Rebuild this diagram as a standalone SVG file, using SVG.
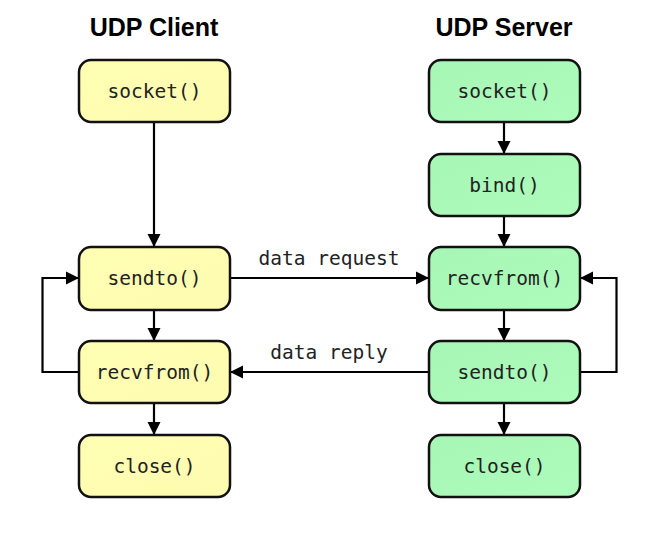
<svg xmlns="http://www.w3.org/2000/svg" width="646" height="536" viewBox="0 0 646 536">
<defs>
<marker id="arr" viewBox="0 0 10 10" refX="10" refY="5" markerWidth="6" markerHeight="6" orient="auto" markerUnits="strokeWidth">
<path d="M0,0 L10,5 L0,10 z" fill="#000"/>
</marker>
<linearGradient id="gy" x1="0" y1="0" x2="1" y2="1">
<stop offset="0" stop-color="#ffffb4"/><stop offset="1" stop-color="#fdfbb0"/>
</linearGradient>
<linearGradient id="gg" x1="0" y1="0" x2="1" y2="1">
<stop offset="0" stop-color="#a6f6b6"/><stop offset="1" stop-color="#aefcbc"/>
</linearGradient>
</defs>
<style>
.title{font-family:"Liberation Sans",Arial,sans-serif;font-weight:bold;font-size:25px;fill:#000;text-anchor:middle}
.box{stroke:#111;stroke-width:2.5}
.c{fill:url(#gy)}
.s{fill:url(#gg)}
.lbl{font-family:"DejaVu Sans Mono",monospace;font-size:19.5px;fill:#222;text-anchor:middle}
.edge{fill:none;stroke:#000;stroke-width:2.2;marker-end:url(#arr)}
</style>
<rect width="646" height="536" fill="#fff"/>
<text class="title" x="154" y="36">UDP Client</text>
<text class="title" x="504" y="36">UDP Server</text>
<g id="connectors">
<path class="edge" d="M154,122 V247"/>
<path class="edge" d="M154,310 V341"/>
<path class="edge" d="M154,403 V435"/>
<path class="edge" d="M80,372 H42.5 V278 H79"/>
<path class="edge" d="M230,278 H429"/>
<path class="edge" d="M429,372 H230"/>
<path class="edge" d="M504,122 V154"/>
<path class="edge" d="M504,216 V247"/>
<path class="edge" d="M504,310 V341"/>
<path class="edge" d="M504,403 V435"/>
<path class="edge" d="M580,372 H616.5 V278 H580"/>
<text class="lbl" x="329" y="265">data request</text>
<text class="lbl" x="329" y="359">data reply</text>
</g>
<g id="client-socket"><rect class="box c" x="79" y="60" width="151" height="62" rx="12"/><text class="lbl" x="154.5" y="98">socket()</text></g>
<g id="client-sendto"><rect class="box c" x="79" y="247" width="151" height="63" rx="12"/><text class="lbl" x="154.5" y="285">sendto()</text></g>
<g id="client-recvfrom"><rect class="box c" x="79" y="341" width="151" height="62" rx="12"/><text class="lbl" x="154.5" y="379">recvfrom()</text></g>
<g id="client-close"><rect class="box c" x="79" y="435" width="151" height="62" rx="12"/><text class="lbl" x="154.5" y="473">close()</text></g>
<g id="server-socket"><rect class="box s" x="429" y="60" width="151" height="62" rx="12"/><text class="lbl" x="504.5" y="98">socket()</text></g>
<g id="server-bind"><rect class="box s" x="429" y="154" width="151" height="62" rx="12"/><text class="lbl" x="504.5" y="192">bind()</text></g>
<g id="server-recvfrom"><rect class="box s" x="429" y="247" width="151" height="63" rx="12"/><text class="lbl" x="504.5" y="285">recvfrom()</text></g>
<g id="server-sendto"><rect class="box s" x="429" y="341" width="151" height="62" rx="12"/><text class="lbl" x="504.5" y="379">sendto()</text></g>
<g id="server-close"><rect class="box s" x="429" y="435" width="151" height="62" rx="12"/><text class="lbl" x="504.5" y="473">close()</text></g>
</svg>
